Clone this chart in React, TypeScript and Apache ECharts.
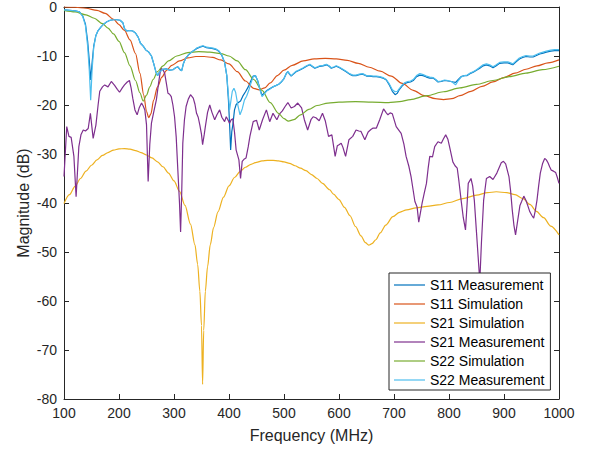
import React, { useEffect, useRef } from "react";
import * as echarts from "echarts";

const seriesNames = [
  "S11 Measurement",
  "S11 Simulation",
  "S21 Simulation",
  "S21 Measurement",
  "S22 Simulation",
  "S22 Measurement",
];

const s11Measurement: [number, number][] = [
  [100, -0.6], [110, -0.7], [120, -0.8], [128, -1.0], [134, -1.8], [139, -3.5], [143, -7.0], [146, -11.0],
  [148.5, -14.9], [151, -11.5], [154, -8.0], [158, -5.8], [162, -4.8], [167, -4.1], [172, -3.5], [178, -3.0],
  [184, -2.7], [190, -2.6], [196, -2.6], [202, -2.7], [207, -3.2], [210, -4.4], [214, -4.9], [219, -4.8],
  [225, -4.9], [230, -5.3], [235, -6.2], [239, -7.4], [244, -8.0], [249, -8.8], [254, -9.2], [259, -10.0],
  [263, -11.5], [267, -13.2], [270, -14.0], [274, -13.2], [280, -12.7], [286, -12.6], [292, -12.9], [298, -12.8],
  [303, -12.4], [307, -12.2], [311, -12.8], [314, -13.0], [317, -11.6], [321, -10.5], [326, -9.8], [331, -9.3],
  [336, -8.9], [341, -8.5], [347, -8.2], [353, -8.0], [359, -8.3], [365, -8.4], [371, -8.5], [377, -8.7],
  [382, -9.1], [387, -9.9], [392, -11.3], [396, -14.0], [399, -19.0], [401.5, -25.0], [403, -29.2], [405, -25.5],
  [407, -24.0], [410, -21.0], [413, -19.9], [417, -19.5], [421, -19.2], [425, -18.2], [430, -17.3], [435, -16.3],
  [440, -15.0], [444, -14.1], [448, -14.0], [452, -15.0], [456, -16.6], [460, -18.0], [464, -17.6], [468, -17.1],
  [474, -16.7], [480, -16.3], [486, -16.0], [491, -15.7], [496, -15.2], [500, -14.6], [504, -13.6], [507, -13.2],
  [510, -13.7], [513, -14.1], [517, -13.7], [522, -13.2], [528, -12.9], [535, -12.5], [541, -12.1], [547, -11.8],
  [552, -12.2], [556, -12.5], [561, -12.3], [565, -12.1], [571, -12.0], [577, -11.8], [582, -12.1], [586, -12.5],
  [591, -12.3], [595, -12.1], [601, -12.4], [607, -12.8], [613, -13.2], [619, -13.7], [625, -14.0], [631, -14.0],
  [637, -13.8], [643, -13.7], [650, -14.1], [656, -14.1], [662, -14.2], [668, -14.2], [674, -14.3], [680, -14.5],
  [686, -14.9], [692, -16.0], [697, -17.2], [702, -17.9], [706, -17.6], [710, -16.8], [715, -16.1], [720, -15.6],
  [725, -15.4], [730, -15.3], [735, -15.0], [741, -14.2], [747, -13.9], [753, -14.0], [759, -14.3], [765, -14.5],
  [771, -14.5], [776, -14.9], [780, -15.3], [786, -15.2], [792, -15.0], [798, -15.1], [804, -15.2], [808, -15.3],
  [812, -15.4], [817, -14.8], [822, -14.2], [828, -14.0], [833, -14.0], [838, -13.6], [844, -13.3], [850, -12.9],
  [856, -12.5], [862, -12.0], [868, -11.8], [874, -12.0], [880, -12.4], [886, -12.0], [892, -11.5], [900, -11.4],
  [907, -11.4], [912, -11.6], [916, -11.8], [922, -11.2], [928, -10.6], [934, -10.3], [940, -10.1], [947, -10.2],
  [953, -10.2], [959, -9.9], [965, -9.6], [971, -9.4], [977, -9.2], [985, -9.0], [992, -8.9], [1000, -8.9],
];

const s22Measurement: [number, number][] = [
  [100, -0.6], [110, -0.7], [120, -0.8], [128, -1.0], [134, -1.9], [139, -3.8], [143, -8.0], [146, -13.0],
  [148.5, -19.0], [151, -13.0], [154, -8.3], [158, -5.8], [162, -4.8], [167, -4.1], [172, -3.5], [178, -3.0],
  [184, -2.7], [190, -2.6], [196, -2.6], [202, -2.7], [207, -3.2], [210, -4.4], [214, -4.9], [219, -4.8],
  [225, -4.9], [230, -5.3], [235, -6.2], [239, -7.4], [244, -8.0], [249, -8.8], [254, -9.2], [259, -10.0],
  [263, -11.5], [267, -13.2], [270, -14.0], [274, -13.2], [280, -12.7], [286, -12.6], [292, -12.9], [298, -12.8],
  [303, -12.4], [307, -12.2], [311, -12.8], [314, -13.0], [317, -11.6], [321, -10.5], [326, -9.8], [331, -9.3],
  [336, -8.9], [341, -8.4], [347, -8.1], [353, -7.9], [359, -8.2], [365, -8.3], [371, -8.4], [377, -8.6],
  [382, -9.0], [387, -9.8], [392, -11.3], [396, -14.0], [399, -18.0], [401, -21.0], [403, -19.5], [406, -17.2],
  [409, -16.6], [412, -17.4], [416, -20.0], [420, -22.0], [424, -20.8], [428, -19.0], [432, -18.2], [436, -17.0],
  [440, -15.5], [444, -14.2], [448, -14.0], [452, -15.0], [456, -16.8], [460, -18.3], [464, -17.8], [468, -17.2],
  [474, -16.8], [480, -16.3], [486, -16.0], [491, -15.7], [496, -15.2], [500, -14.6], [504, -13.6], [507, -13.2],
  [510, -13.6], [513, -14.0], [517, -13.6], [522, -13.1], [528, -12.8], [535, -12.4], [541, -12.0], [547, -11.7],
  [552, -12.1], [556, -12.4], [561, -12.2], [565, -12.0], [571, -11.9], [577, -11.7], [582, -12.0], [586, -12.4],
  [591, -12.2], [595, -12.0], [601, -12.3], [607, -12.7], [613, -13.1], [619, -13.6], [625, -13.9], [631, -13.9],
  [637, -13.7], [643, -13.6], [650, -14.0], [656, -14.0], [662, -14.1], [668, -14.1], [674, -14.2], [680, -14.4],
  [686, -14.8], [692, -15.8], [697, -16.9], [702, -17.3], [706, -17.2], [710, -16.6], [715, -15.9], [720, -15.4],
  [725, -15.2], [730, -15.1], [735, -14.8], [741, -14.0], [747, -13.6], [753, -13.8], [759, -14.1], [765, -14.3],
  [771, -14.4], [776, -14.8], [780, -15.2], [786, -15.1], [792, -14.9], [798, -15.0], [804, -15.2], [808, -15.5],
  [812, -15.9], [817, -15.0], [822, -14.3], [828, -14.0], [833, -13.9], [838, -13.5], [844, -13.2], [850, -12.8],
  [856, -12.3], [862, -11.8], [868, -11.6], [874, -11.8], [880, -12.2], [886, -11.8], [892, -11.3], [900, -11.2],
  [907, -11.2], [912, -11.4], [916, -11.6], [922, -11.0], [928, -10.4], [934, -10.1], [940, -9.9], [947, -10.0],
  [953, -10.0], [959, -9.7], [965, -9.4], [971, -9.2], [977, -9.0], [985, -8.8], [992, -8.7], [1000, -8.7],
];

const s11Simulation: [number, number][] = [
  [100, 0], [120, -0.05], [140, -0.25], [160, -0.7], [175, -1.3], [190, -2.5], [200, -3.6], [210, -4.8],
  [220, -6.7], [230, -9.5], [238, -13.5], [245, -18.0], [250, -21.3], [254, -22.6], [258, -21.8], [263, -19.0],
  [270, -16.3], [278, -14.3], [286, -13.0], [296, -11.9], [310, -11.0], [325, -10.4], [340, -10.1], [355, -10.1],
  [370, -10.3], [385, -10.8], [400, -11.6], [415, -13.2], [430, -15.1], [445, -16.6], [455, -16.9], [465, -16.5],
  [475, -15.5], [488, -14.0], [500, -12.9], [515, -11.9], [535, -11.0], [555, -10.6], [575, -10.5], [595, -10.6],
  [615, -10.9], [635, -11.5], [655, -12.3], [675, -13.1], [695, -14.1], [715, -15.6], [735, -17.0], [755, -18.1],
  [775, -18.7], [790, -18.9], [805, -18.7], [820, -18.1], [840, -17.2], [860, -16.2], [880, -15.3], [900, -14.4],
  [920, -13.5], [940, -12.7], [960, -12.0], [980, -11.4], [1000, -10.8],
];

const s21Simulation: [number, number][] = [
  [100, -40.1], [110, -38.3], [120, -36.6], [130, -35.0], [140, -33.5], [150, -32.3], [160, -31.2], [170, -30.3],
  [180, -29.7], [190, -29.2], [200, -28.95], [210, -28.9], [220, -29.0], [230, -29.3], [240, -29.7], [250, -30.2],
  [260, -30.8], [270, -31.6], [280, -32.6], [290, -33.9], [300, -35.5], [310, -37.6], [320, -40.5], [330, -44.3],
  [338, -48.5], [343, -52.5], [347, -58.0], [350, -65.0], [352, -77.0], [354, -66.0], [357, -58.0], [361, -53.0],
  [366, -48.5], [372, -45.0], [380, -41.8], [390, -38.8], [400, -36.5], [410, -34.8], [420, -33.6], [430, -32.7],
  [440, -32.1], [450, -31.7], [460, -31.4], [470, -31.3], [480, -31.3], [490, -31.4], [500, -31.6], [510, -31.9],
  [520, -32.4], [530, -32.9], [540, -33.4], [550, -34.2], [560, -35.0], [570, -36.0], [583, -37.3], [590, -38.2],
  [600, -39.3], [610, -40.9], [620, -42.6], [630, -44.8], [640, -46.7], [648, -48.1], [654, -48.6], [660, -48.3],
  [667, -47.5], [675, -46.1], [685, -44.5], [698, -42.8], [710, -41.9], [723, -41.4], [740, -41.0], [760, -40.7],
  [780, -40.4], [801, -39.9], [825, -39.1], [850, -38.4], [870, -37.9], [886, -37.7], [905, -37.9], [920, -38.3],
  [935, -39.1], [947, -40.3], [959, -41.7], [972, -43.0], [985, -44.7], [1000, -46.5],
];

const s21Measurement: [number, number][] = [
  [100, -34.6], [105, -24.4], [109, -26.4], [113, -26.6], [118, -30.5], [122, -38.7], [127, -28.5], [131, -26.0],
  [135, -25.1], [139, -25.3], [144, -24.8], [148, -21.7], [153, -26.8], [158, -24.1], [162, -20.0], [165, -17.2],
  [170, -16.3], [174, -15.9], [180, -16.3], [186, -15.2], [192, -16.0], [197, -16.8], [201, -17.4], [206, -16.5],
  [210, -15.9], [215, -15.3], [219, -15.0], [222, -16.5], [225, -18.6], [229, -21.0], [233, -22.0], [237, -20.5],
  [241, -19.6], [244, -20.2], [247, -21.0], [250, -24.0], [253, -35.6], [256, -28.0], [259, -23.7], [263, -21.5],
  [268, -18.9], [272, -15.5], [276, -12.5], [280, -12.8], [283, -13.5], [286, -15.5], [289, -17.6], [292, -17.8],
  [295, -18.3], [298, -20.0], [301, -22.4], [304, -26.5], [307, -33.3], [310, -40.0], [312, -45.9], [314, -38.0],
  [316, -27.8], [319, -23.0], [322, -20.3], [326, -18.8], [330, -17.9], [335, -18.6], [338, -19.8], [341, -21.7],
  [344, -22.5], [347, -24.1], [350, -26.0], [352, -28.1], [355, -26.0], [357, -24.4], [361, -21.5], [365, -20.0],
  [369, -21.5], [374, -23.0], [378, -22.0], [383, -21.0], [387, -22.5], [392, -23.4], [395, -22.4], [398, -23.0],
  [401, -23.7], [404, -23.0], [407, -22.8], [410, -25.5], [413, -29.2], [418, -31.2], [421, -35.0], [424, -31.5],
  [428, -31.0], [431, -30.8], [435, -28.5], [438, -26.4], [444, -23.4], [450, -23.1], [455, -25.1], [461, -23.0],
  [468, -21.0], [474, -23.4], [480, -21.7], [487, -23.0], [492, -21.8], [497, -21.2], [502, -20.3], [507, -19.5],
  [513, -20.6], [519, -20.3], [525, -19.6], [532, -20.6], [537, -23.0], [543, -25.1], [549, -23.0], [553, -22.4],
  [558, -22.6], [564, -23.2], [570, -21.7], [575, -23.2], [581, -26.4], [587, -26.1], [593, -30.5], [597, -28.3],
  [600, -28.1], [604, -27.8], [607, -28.6], [612, -30.5], [618, -27.1], [625, -26.4], [631, -25.1], [636, -25.3],
  [640, -25.4], [647, -27.1], [653, -25.5], [658, -25.0], [662, -24.7], [668, -24.7], [674, -23.0], [681, -20.8],
  [686, -21.6], [689, -22.0], [693, -21.6], [697, -21.8], [704, -24.4], [713, -25.8], [718, -28.0], [722, -30.5],
  [727, -32.5], [731, -34.6], [735, -37.5], [738, -39.7], [742, -40.8], [745, -43.9], [748, -42.0], [751, -40.1],
  [755, -38.0], [759, -36.0], [762, -33.0], [765, -30.5], [770, -30.6], [774, -28.5], [780, -27.5], [786, -27.8],
  [790, -26.9], [794, -26.1], [798, -27.0], [801, -28.5], [807, -31.6], [811, -32.4], [815, -32.9], [818, -35.5],
  [822, -39.4], [826, -43.0], [830, -45.5], [833, -40.0], [835, -36.0], [840, -35.0], [843, -36.5], [846, -39.4],
  [850, -46.0], [853, -51.0], [856, -56.0], [859, -48.0], [863, -39.4], [868, -35.0], [874, -34.6], [880, -35.2],
  [887, -33.9], [895, -31.8], [899, -31.5], [903, -32.0], [909, -34.6], [912, -37.5], [915, -41.4], [918, -44.5],
  [921, -46.5], [925, -43.5], [929, -40.5], [932, -39.7], [936, -38.6], [940, -39.5], [944, -40.8], [947, -41.8],
  [951, -42.6], [954, -43.1], [957, -41.5], [960, -39.4], [963, -36.5], [966, -33.9], [970, -32.0], [974, -30.9],
  [977, -31.2], [980, -31.8], [983, -32.6], [986, -33.3], [990, -33.5], [994, -33.8], [997, -34.8], [1000, -36.0],
];

const s22Simulation: [number, number][] = [
  [100, -0.7], [120, -1.0], [140, -1.6], [155, -2.3], [170, -3.4], [180, -4.3], [190, -5.5], [200, -7.0],
  [210, -9.3], [220, -12.0], [230, -15.0], [238, -17.5], [244, -19.2], [250, -18.0], [256, -16.3], [262, -14.8],
  [270, -13.2], [280, -12.0], [290, -11.0], [305, -10.0], [325, -9.3], [345, -9.1], [365, -9.2], [385, -9.5],
  [400, -10.0], [415, -11.0], [430, -12.8], [445, -14.8], [460, -17.0], [475, -19.5], [490, -21.7], [500, -22.8],
  [508, -23.3], [518, -23.0], [530, -22.0], [545, -20.9], [560, -20.1], [580, -19.6], [600, -19.4], [630, -19.3],
  [660, -19.4], [690, -19.5], [710, -19.3], [730, -18.9], [760, -18.1], [790, -17.3], [820, -16.5], [850, -15.8],
  [880, -15.0], [910, -14.2], [940, -13.5], [970, -12.8], [1000, -12.1],
];

const seriesColors = ["#0072BD", "#D95319", "#EDB120", "#7E2F8E", "#77AC30", "#4DBEEE"];
const seriesData = [s11Measurement, s11Simulation, s21Simulation, s21Measurement, s22Simulation, s22Measurement];
const smoothFlags = [false, true, true, false, true, false];

// horizontal line legend glyph; the zero-length moves fix the icon's bounding box
const lineIcon = "path://M0,0L0,0M0,6.4L31,6.4L31,7.6L0,7.6ZM31,14L31,14";

export default function App() {
  const ref = useRef<HTMLDivElement>(null);
  useEffect(() => {
    if (!ref.current) return;
    const chart = echarts.init(ref.current, null, { renderer: "svg" });
    const font = "'Liberation Sans', Arial, Helvetica, sans-serif";
    const axisColor = "#262626";
    const lineStyle = { color: axisColor, width: 1 };
    const common = {
      type: "value",
      splitLine: { show: false },
      axisLine: { show: true, onZero: false, lineStyle },
      axisTick: { show: true, inside: true, length: 5, lineStyle },
    };
    const fmt = (v: number) => String(v);
    chart.setOption({
      animation: false,
      backgroundColor: "#ffffff",
      textStyle: { fontFamily: font },
      grid: { left: 64, right: 32, top: 7, bottom: 54, containLabel: false, outerBoundsMode: "none" },
      xAxis: [
        {
          ...common,
          position: "bottom",
          min: 100,
          max: 1000,
          interval: 100,
          axisLabel: { color: axisColor, fontSize: 14, margin: 7, fontFamily: font, formatter: fmt },
          name: "Frequency (MHz)",
          nameLocation: "middle",
          nameGap: 28,
          nameMoveOverlap: false,
          nameTextStyle: { color: axisColor, fontSize: 16, fontFamily: font },
        },
        {
          ...common,
          position: "top",
          min: 100,
          max: 1000,
          interval: 100,
          axisLabel: { show: false },
        },
      ],
      yAxis: [
        {
          ...common,
          position: "left",
          min: -80,
          max: 0,
          interval: 10,
          axisLabel: { color: axisColor, fontSize: 14, margin: 7, fontFamily: font, formatter: fmt },
          name: "Magnitude (dB)",
          nameLocation: "middle",
          nameGap: 33,
          nameMoveOverlap: false,
          nameRotate: 90,
          nameTextStyle: { color: axisColor, fontSize: 16, fontFamily: font },
        },
        {
          ...common,
          position: "right",
          min: -80,
          max: 0,
          interval: 10,
          axisLabel: { show: false },
        },
      ],
      legend: {
        show: true,
        orient: "vertical",
        left: 389,
        top: 273,
        itemWidth: 31,
        itemHeight: 14,
        itemGap: 5,
        itemTextGap: 7,
        padding: [5, 6, 3, 5],
        backgroundColor: "#ffffff",
        borderColor: axisColor,
        borderWidth: 1,
        borderRadius: 0,
        textStyle: { fontSize: 14, color: "#000000", fontFamily: font },
        data: seriesNames.map((name, i) => ({
          name,
          icon: lineIcon,
          itemStyle: { color: seriesColors[i], borderWidth: 0 },
        })),
      },
      series: seriesNames.map((name, i) => ({
        type: "line",
        name,
        data: seriesData[i],
        xAxisIndex: 0,
        yAxisIndex: 0,
        symbol: "none",
        showSymbol: false,
        smooth: smoothFlags[i] ? 0.3 : false,
        smoothMonotone: smoothFlags[i] ? "x" : undefined,
        lineStyle: { width: 1.2, color: seriesColors[i] },
        itemStyle: { color: seriesColors[i] },
        emphasis: { disabled: true },
        z: 2 + i * 0.01,
      })),
    });
    return () => chart.dispose();
  }, []);
  return (
    <div
      ref={ref}
      style={{ position: "fixed", left: 0, top: 0, width: 591, height: 453, background: "#fff" }}
    />
  );
}
